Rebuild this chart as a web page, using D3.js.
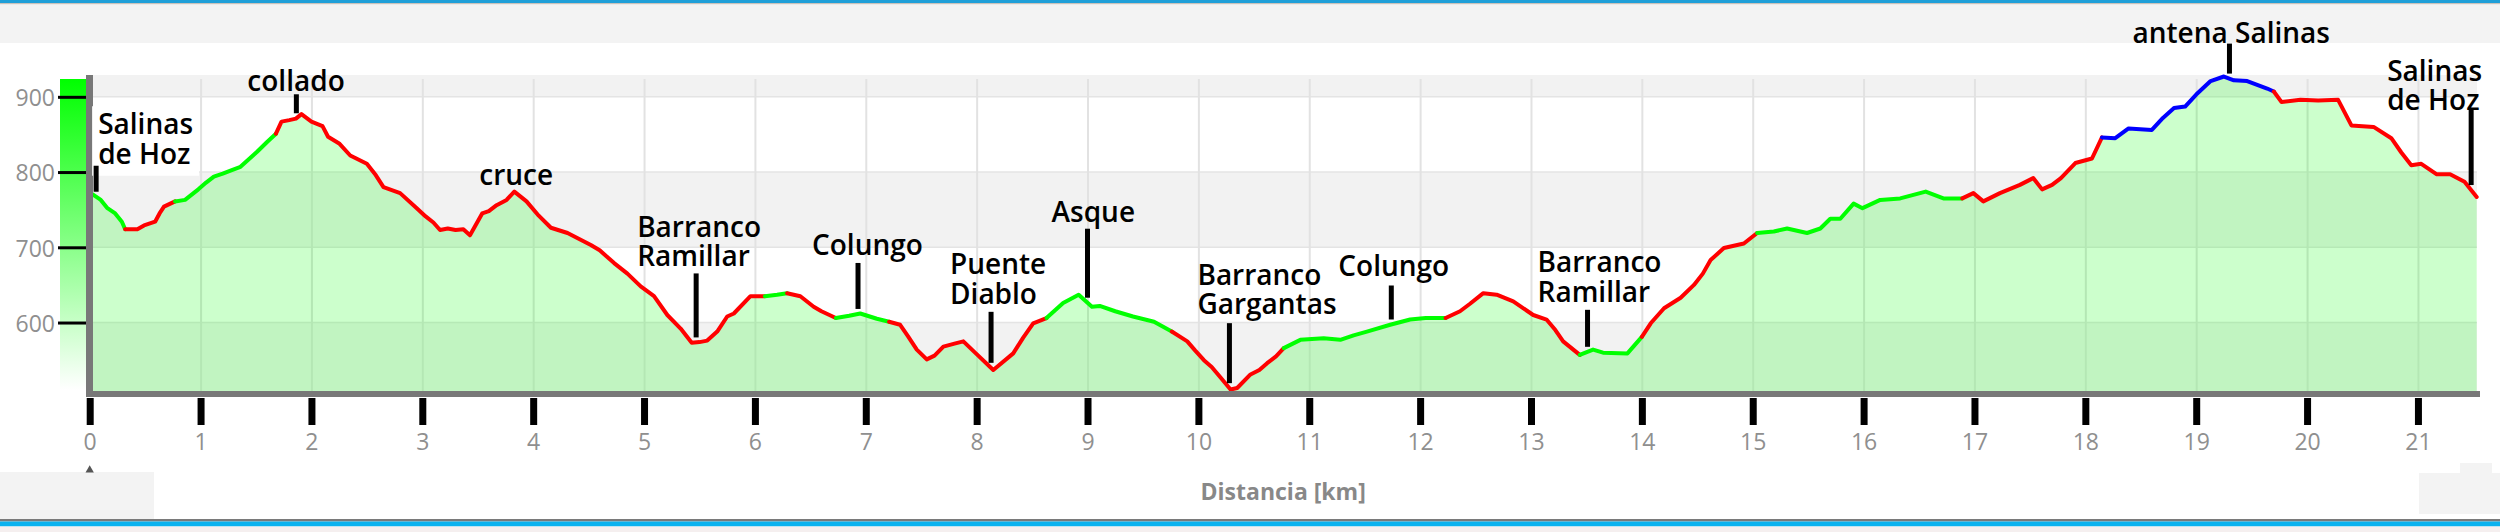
<!DOCTYPE html>
<html>
<head>
<meta charset="utf-8">
<script src="https://cdn.jsdelivr.net/npm/d3@7"></script>
<style>
  html, body { margin: 0; padding: 0; background: #ffffff; }
  svg { display: block; }
</style>
</head>
<body>
<div id="chart"></div>
<script>
// ---------------- DATA ----------------
const kmValues = [
  0.00, 0.03, 0.10, 0.16, 0.23, 0.29, 0.32, 0.43, 0.49, 0.59, 0.63, 0.67, 0.77, 0.86, 0.98,
  1.05, 1.12, 1.20, 1.27, 1.36, 1.51, 1.60, 1.68, 1.73, 1.80, 1.86, 1.91, 2.00, 2.10, 2.15,
  2.25, 2.35, 2.50, 2.58, 2.65, 2.80, 2.95, 3.03, 3.10, 3.16, 3.23, 3.30, 3.37, 3.43, 3.54,
  3.60, 3.67, 3.76, 3.83, 3.94, 4.05, 4.16, 4.31, 4.52, 4.60, 4.73, 4.85, 4.97, 5.09, 5.21,
  5.33, 5.43, 5.50, 5.57, 5.66, 5.75, 5.81, 5.96, 6.09, 6.20, 6.29, 6.41, 6.53, 6.60, 6.73,
  6.85, 6.95, 7.10, 7.21, 7.31, 7.38, 7.46, 7.55, 7.62, 7.70, 7.80, 7.88, 8.00, 8.15, 8.33,
  8.42, 8.51, 8.63, 8.78, 8.92, 9.04, 9.11, 9.25, 9.41, 9.60, 9.76, 9.90, 9.97, 10.05, 10.12,
  10.20, 10.29, 10.35, 10.47, 10.55, 10.62, 10.70, 10.77, 10.92, 11.13, 11.28, 11.40, 11.52, 11.73, 11.91,
  12.05, 12.23, 12.36, 12.45, 12.57, 12.69, 12.84, 13.02, 13.14, 13.22, 13.29, 13.44, 13.56, 13.65, 13.87,
  14.00, 14.08, 14.20, 14.35, 14.47, 14.55, 14.62, 14.74, 14.92, 15.04, 15.19, 15.31, 15.49, 15.61, 15.70,
  15.79, 15.91, 15.99, 16.15, 16.33, 16.56, 16.72, 16.89, 16.99, 17.08, 17.23, 17.41, 17.53, 17.61, 17.70,
  17.78, 17.91, 18.06, 18.15, 18.27, 18.39, 18.60, 18.70, 18.80, 18.90, 19.00, 19.13, 19.25, 19.34, 19.46,
  19.64, 19.70, 19.77, 19.94, 20.10, 20.28, 20.40, 20.60, 20.76, 20.85, 20.94, 21.03, 21.17, 21.29, 21.42,
  21.53
];
const elevValues = [
  772, 770, 763, 752, 745, 734, 724, 724, 729, 734, 745, 754, 761, 763, 777,
  786, 794, 798, 802, 807, 827, 840, 851, 867, 869, 871, 877, 867, 861, 847,
  838, 822, 811, 796, 780, 772, 752, 741, 733, 723, 725, 723, 724, 716, 745,
  748, 756, 763, 774, 761, 742, 726, 719, 703, 696, 679, 665, 648, 635, 610,
  592, 573, 574, 576, 588, 608, 612, 635, 635, 637, 639, 635, 621, 615, 606,
  609, 612, 605, 601, 597, 582, 564, 551, 556, 568, 572, 575, 558, 537, 559,
  580, 599, 606, 626, 637, 621, 622, 615, 608, 601, 588, 575, 563, 550, 541,
  527, 511, 513, 531, 537, 546, 555, 566, 577, 579, 577, 583, 588, 597, 604,
  606, 606, 615, 625, 639, 637, 628, 610, 604, 590, 575, 557, 564, 560, 559,
  581, 599, 619, 633, 650, 665, 683, 699, 705, 719, 721, 725, 719, 725, 738,
  738, 758, 752, 763, 765, 774, 765, 765, 772, 761, 772, 783, 792, 777, 783,
  792, 812, 818, 846, 845, 858, 856, 872, 885, 887, 903, 921, 927, 922, 921,
  911, 907, 893, 896, 895, 896, 862, 860, 845, 826, 809, 811, 797, 797, 787,
  767
];

// colored stretches of the track
const segStartKm = [0.00, 0.32, 0.77, 1.68, 6.09, 6.29, 6.73, 7.21, 8.63, 9.76, 10.77, 12.23, 13.44, 14.00, 15.04, 16.89, 18.15, 19.70];
const segEndKm   = [0.32, 0.77, 1.68, 6.09, 6.29, 6.73, 7.21, 8.63, 9.76, 10.77, 12.23, 13.44, 14.00, 15.04, 16.89, 18.15, 19.70, 21.53];
const segType    = ["g", "r", "g", "r", "g", "r", "g", "r", "g", "r", "g", "r", "g", "r", "g", "r", "b", "r"];

// waypoints
const waypointKm   = [0.058, 1.864, 3.83, 5.47, 6.93, 8.13, 9.00, 10.28, 11.74, 13.51, 19.30, 21.48];
const waypointName = ["Salinas\nde Hoz", "collado", "cruce", "Barranco\nRamillar", "Colungo", "Puente\nDiablo",
                      "Asque", "Barranco\nGargantas", "Colungo", "Barranco\nRamillar", "antena Salinas", "Salinas\nde Hoz"];

// axes
const xTickLabels = [0, 1, 2, 3, 4, 5, 6, 7, 8, 9, 10, 11, 12, 13, 14, 15, 16, 17, 18, 19, 20, 21];
const yTickLabels = [600, 700, 800, 900];
const yDomain = [509, 929];
const xAxisTitle = "Distancia [km]";

// ---------------- LAYOUT / STYLE ----------------
// per waypoint label: dx = text block left relative to marker, len = marker length, gap = marker top to last baseline, bg = white box
const labelLayout = [
  {dx: 2,   len: 26, gap: 2,  bg: true},
  {dx: -49, len: 19, gap: 3},
  {dx: -35, len: 0,  gap: 2},
  {dx: -59, len: 64, gap: 7},
  {dx: -46, len: 46, gap: 8},
  {dx: -41, len: 51, gap: 8},
  {dx: -36, len: 69, gap: 7},
  {dx: -32, len: 60, gap: 9},
  {dx: -53, len: 34, gap: 9},
  {dx: -50, len: 37, gap: 8},
  {dx: -97, len: 30, gap: 1},
  {dx: -84, len: 76, gap: -1}
];
const segColor = {g: "#00ff00", r: "#ff0000", b: "#0000ff"};

const W = 2500, H = 532;
const plot = {left: 93, right: 2477, top: 75, bottom: 391};

const svg = d3.select("#chart").append("svg").attr("width", W).attr("height", H)
  .style("font-family", "'Open Sans', 'Noto Sans', sans-serif");

const x = d3.scaleLinear().domain([0, d3.max(kmValues)]).range([89.7, 2476.7]);
const y = d3.scaleLinear().domain(yDomain).range([plot.bottom, plot.top]);

// ---- frame decorations ----
svg.append("rect").attr("x", 0).attr("y", 0).attr("width", W).attr("height", 3).attr("fill", "#1f9fd8");
svg.append("rect").attr("x", 0).attr("y", 3).attr("width", W).attr("height", 1.5).attr("fill", "#c9c2bb");
svg.append("rect").attr("x", 0).attr("y", 4.5).attr("width", W).attr("height", 38.5).attr("fill", "#f3f3f3");
svg.append("rect").attr("x", 0).attr("y", 472).attr("width", 154).attr("height", 47).attr("fill", "#f3f3f3");
svg.append("rect").attr("x", 2419).attr("y", 473).attr("width", 81).attr("height", 41).attr("fill", "#f3f3f3");
svg.append("rect").attr("x", 2460).attr("y", 463).attr("width", 32).attr("height", 12).attr("fill", "#f3f3f3");
svg.append("rect").attr("x", 0).attr("y", 519).attr("width", W).attr("height", 2.5).attr("fill", "#7a7a7a");
svg.append("rect").attr("x", 0).attr("y", 521.5).attr("width", W).attr("height", 5).attr("fill", "#0ab2ef");
svg.append("rect").attr("x", 0).attr("y", 526.5).attr("width", W).attr("height", 5.5).attr("fill", "#f5efef");

// ---- plot background bands ----
const edges = [yDomain[0], ...yTickLabels, yDomain[1]];
for (let i = 0; i < edges.length - 1; i++) {
  svg.append("rect")
    .attr("x", plot.left).attr("width", plot.right - plot.left)
    .attr("y", y(edges[i + 1])).attr("height", y(edges[i]) - y(edges[i + 1]))
    .attr("fill", i % 2 === 0 ? "#f2f2f2" : "#ffffff");
}
// horizontal grid lines
svg.append("g").selectAll("line").data(yTickLabels).join("line")
  .attr("x1", plot.left).attr("x2", plot.right)
  .attr("y1", d => y(d)).attr("y2", d => y(d))
  .attr("stroke", "#e4e4e4").attr("stroke-width", 1.5);
// vertical grid lines
svg.append("g").selectAll("line").data(xTickLabels.filter(d => d > 0)).join("line")
  .attr("x1", d => x(d) + 0.5).attr("x2", d => x(d) + 0.5)
  .attr("y1", 79).attr("y2", plot.bottom)
  .attr("stroke", "#e2e2e2").attr("stroke-width", 2);

// ---- elevation gradient bar ----
const defs = svg.append("defs");
const grad = defs.append("linearGradient").attr("id", "gbar").attr("x1", 0).attr("y1", 0).attr("x2", 0).attr("y2", 1);
grad.append("stop").attr("offset", "0%").attr("stop-color", "#00ff00");
grad.append("stop").attr("offset", "100%").attr("stop-color", "#ffffff");
svg.append("rect").attr("x", 60).attr("y", 79).attr("width", 26).attr("height", 311).attr("fill", "url(#gbar)");

// ---- area ----
const pts = kmValues.map((k, i) => ({k, e: elevValues[i]}));
const area = d3.area().x(d => x(d.k)).y0(plot.bottom).y1(d => y(d.e));
svg.append("path").datum(pts).attr("d", area).attr("fill", "rgba(0,255,0,0.2)");

// ---- colored line ----
const line = d3.line().x(d => x(d.k)).y(d => y(d.e));
const lineG = svg.append("g");
segStartKm.forEach((s, i) => {
  const e = segEndKm[i];
  const sp = pts.filter(p => p.k >= s - 1e-9 && p.k <= e + 1e-9);
  lineG.append("path").datum(sp).attr("d", line)
    .attr("fill", "none").attr("stroke", segColor[segType[i]])
    .attr("stroke-width", 4).attr("stroke-linejoin", "round").attr("stroke-linecap", "round");
});

// ---- axes lines ----
svg.append("rect").attr("x", 86).attr("y", plot.bottom).attr("width", 2480 - 86).attr("height", 6).attr("fill", "#787878");
svg.append("rect").attr("x", 86).attr("y", 75).attr("width", 7).attr("height", 322).attr("fill", "#787878");

// x axis ticks & labels
const xAxis = d3.axisBottom(x).tickValues(xTickLabels).tickSize(27).tickPadding(9).tickFormat(d3.format("d"));
const gx = svg.append("g").attr("transform", "translate(0,398)").call(xAxis);
gx.select(".domain").remove();
gx.selectAll(".tick line").attr("stroke", "#000").attr("stroke-width", 7);
gx.selectAll(".tick text").attr("fill", "#8f8f8f").style("font-size", "23px").style("font-family", "'Open Sans', sans-serif");

// y axis ticks & labels
const yAxis = d3.axisLeft(y).tickValues(yTickLabels).tickSize(28).tickPadding(3);
const gy = svg.append("g").attr("transform", "translate(86,0)").call(yAxis);
gy.select(".domain").remove();
gy.selectAll(".tick line").attr("stroke", "#000").attr("stroke-width", 3);
gy.selectAll(".tick text").attr("fill", "#8f8f8f").attr("dy", "0.38em").style("font-size", "23px").style("font-family", "'Open Sans', sans-serif");

// small marker triangle under 0
svg.append("path").attr("d", d3.symbol().type(d3.symbolTriangle).size(30)())
  .attr("transform", `translate(${x(0)},470)`).attr("fill", "#555");

// axis title
svg.append("text").attr("x", (x(0) + x(d3.max(kmValues))) / 2).attr("y", 500)
  .attr("text-anchor", "middle").attr("fill", "#888").style("font-size", "23px").style("font-weight", "bold")
  .text(xAxisTitle);

// ---- waypoint labels ----
const elevAt = k => {
  const i = d3.bisector(d => d.k).left(pts, k);
  if (i <= 0) return pts[0].e;
  if (i >= pts.length) return pts[pts.length - 1].e;
  const a = pts[i - 1], b = pts[i];
  return a.e + (b.e - a.e) * (k - a.k) / (b.k - a.k);
};
const lineH = 29.5;
waypointKm.forEach((k, i) => {
  const L = labelLayout[i];
  const mx = x(k);
  const bottom = y(elevAt(k)) - 5;
  const top = bottom - L.len;
  const lines = waypointName[i].split("\n");
  const g = svg.append("g");
  const t = g.append("text").attr("fill", "#000").style("font-size", "28px").style("font-weight", 600);
  lines.forEach((ln, j) => {
    t.append("tspan").attr("x", mx + L.dx)
      .attr("y", top - L.gap - (lines.length - 1 - j) * lineH).text(ln);
  });
  if (L.bg) {
    const bb = t.node().getBBox();
    g.insert("rect", "text").attr("x", bb.x - 6).attr("y", bb.y + 2).attr("width", bb.width + 12).attr("height", bb.height + 2).attr("fill", "#fff");
  }
  if (L.len > 0) {
    svg.append("line").attr("x1", mx).attr("x2", mx).attr("y1", top).attr("y2", bottom)
      .attr("stroke", "#000").attr("stroke-width", 5);
  }
});
</script>
</body>
</html>
